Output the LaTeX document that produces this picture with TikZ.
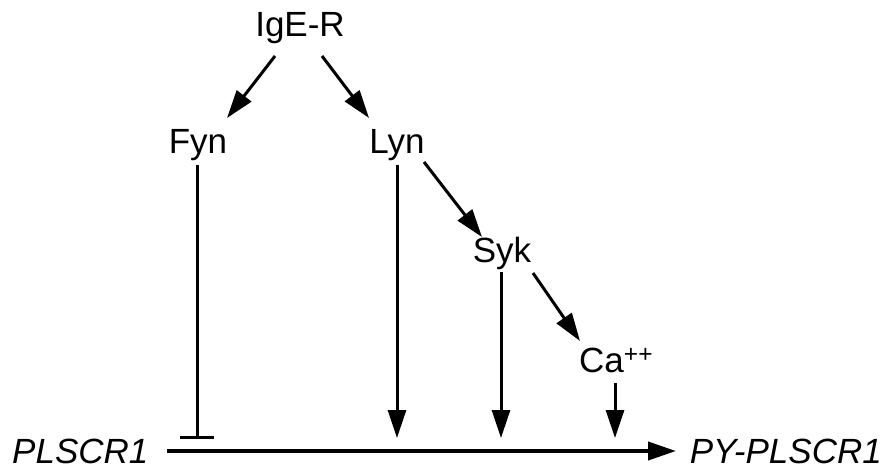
\documentclass[tikz,border=0pt]{standalone}
\usepackage{fontspec}
\setmainfont{Liberation Sans}
\usetikzlibrary{arrows.meta}
\tikzset{
  lbl/.style={font=\fontsize{35}{42}\selectfont, anchor=base, inner sep=0pt},
  act/.style={line width=3pt, -{Triangle[length=28pt,width=18pt]}},
  inh/.style={line width=3pt, -{Bar[width=34pt,line width=3pt]}},
}
\begin{document}
\begin{tikzpicture}[x=1pt,y=-1pt]
\useasboundingbox (0,0) rectangle (883,469);
% Drawing nodes
\node[lbl] (ige) at (300,36) {IgE-R};
\node[lbl] (fyn) at (198,153) {Fyn};
\node[lbl] (lyn) at (397,153) {Lyn};
\node[lbl] (syk) at (502,262) {Syk};
\node[lbl, anchor=base west] (ca) at (579,372) {Ca\textsuperscript{++}};
\node[lbl, text depth=0pt, anchor=base west] (sub) at (12,463) {\itshape PLSCR1};
\node[lbl, text depth=0pt, anchor=base east] (prod) at (882,463) {\itshape PY-PLSCR1};
% Done with nodes; drawing main line
\coordinate (m0) at (167,451);
\coordinate (m1) at (676,451);
\draw[act, line width=4pt] (m0) -- (m1);
% Drawing branches
\coordinate (a1) at (275,56);
\coordinate (a2) at (227,118);
\draw[act] (a1) -- (a2);
\coordinate (b1) at (322,56);
\coordinate (b2) at (369,118);
\draw[act] (b1) -- (b2);
\coordinate (c1) at (424,162);
\coordinate (c2) at (482,237);
\draw[act] (c1) -- (c2);
\coordinate (d1) at (533,273);
\coordinate (d2) at (580,341);
\draw[act] (d1) -- (d2);
% Drawing vertical lines
\draw[inh] (197,165) -- (197,439);
\draw[act] (397,165) -- (397,438);
\draw[act] (501,272) -- (501,438);
\draw[act] (615,383) -- (615,438);
% Done
\end{tikzpicture}
\end{document}
